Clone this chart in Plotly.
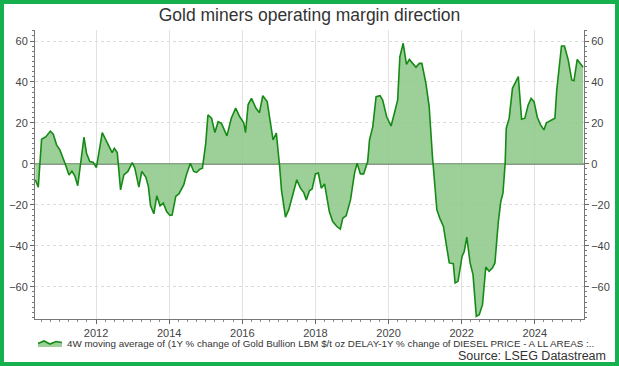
import datetime as dt
import plotly.graph_objects as go

# Decimal-year dates and values
dates_dec = [
    2010.34, 2010.42, 2010.51, 2010.63, 2010.75, 2010.83, 2010.92, 2011.01, 2011.15, 2011.26,
    2011.34, 2011.42, 2011.50, 2011.67, 2011.74, 2011.83, 2011.92, 2012.01, 2012.17, 2012.30,
    2012.44, 2012.50, 2012.58, 2012.67, 2012.76, 2012.87, 2012.99, 2013.06, 2013.17, 2013.25,
    2013.36, 2013.43, 2013.49, 2013.58, 2013.66, 2013.75, 2013.84, 2013.93, 2014.02, 2014.08,
    2014.18, 2014.27, 2014.40, 2014.47, 2014.58, 2014.67, 2014.75, 2014.84, 2014.91, 2015.00,
    2015.06, 2015.16, 2015.25, 2015.34, 2015.43, 2015.58, 2015.70, 2015.82, 2015.93, 2016.04,
    2016.09, 2016.16, 2016.25, 2016.38, 2016.47, 2016.56, 2016.68, 2016.84, 2016.93, 2017.02,
    2017.07, 2017.18, 2017.27, 2017.38, 2017.49, 2017.59, 2017.68, 2017.75, 2017.84, 2017.91,
    2018.00, 2018.08, 2018.16, 2018.25, 2018.38, 2018.47, 2018.58, 2018.68, 2018.75, 2018.84,
    2018.96, 2019.07, 2019.14, 2019.23, 2019.32, 2019.43, 2019.48, 2019.57, 2019.66, 2019.77,
    2019.84, 2019.95, 2020.07, 2020.16, 2020.25, 2020.31, 2020.40, 2020.49, 2020.57, 2020.66,
    2020.75, 2020.84, 2020.91, 2021.02, 2021.11, 2021.20, 2021.32, 2021.40, 2021.50, 2021.66,
    2021.77, 2021.82, 2021.90, 2022.01, 2022.07, 2022.14, 2022.23, 2022.31, 2022.40, 2022.48,
    2022.57, 2022.66, 2022.75, 2022.84, 2022.91, 2023.00, 2023.07, 2023.13, 2023.19, 2023.22,
    2023.30, 2023.39, 2023.55, 2023.64, 2023.73, 2023.82, 2023.90, 2023.98, 2024.07, 2024.16,
    2024.25, 2024.32, 2024.41, 2024.55, 2024.60, 2024.73, 2024.81, 2024.91, 2025.01, 2025.07,
    2025.16, 2025.23, 2025.32,
]
values = [
    -7.8, -11.4, 12.0, 13.3, 16.0, 14.5, 9.3, 6.8, 0.3, -5.5,
    -3.6, -5.9, -10.7, 13.0, 5.2, 1.1, 0.8, -1.8, 15.3, 10.4,
    5.5, 7.6, 5.5, -12.7, -5.4, -3.7, 0.6, -2.1, -11.4, -3.7,
    -6.5, -11.0, -20.5, -24.4, -15.6, -20.5, -19.2, -23.3, -25.2, -25.0,
    -15.9, -14.6, -10.2, -5.4, 0.3, -3.7, -4.2, -2.6, -2.1, 10.0,
    23.9, 22.3, 15.3, 20.6, 19.8, 13.7, 22.3, 27.2, 23.0, 20.1,
    15.3, 29.0, 32.0, 27.0, 25.0, 33.3, 30.4, 11.7, 15.0, -1.3,
    -12.7, -26.0, -22.4, -15.1, -7.8, -11.9, -14.0, -17.6, -13.0, -12.3,
    -4.9, -4.5, -11.9, -9.8, -23.3, -28.1, -30.5, -31.9, -26.5, -25.4,
    -17.6, -4.5, 0.3, -4.9, -4.9, 1.1, 11.7, 18.2, 32.8, 33.3,
    31.2, 23.0, 18.5, 24.7, 31.2, 52.3, 58.9, 48.6, 51.0, 49.1,
    47.2, 49.1, 49.1, 39.4, 28.0, 3.6, -22.4, -26.5, -30.6, -48.4,
    -48.8, -58.2, -57.4, -45.2, -42.8, -35.8, -48.4, -54.1, -74.5, -73.7,
    -68.8, -50.4, -52.5, -50.9, -48.4, -28.9, -18.4, -14.3, 0.3, 17.4,
    22.3, 36.9, 42.6, 21.8, 22.3, 28.8, 32.0, 30.4, 22.8, 19.0,
    16.6, 20.1, 21.1, 22.3, 36.1, 57.6, 57.6, 51.0, 41.0, 40.6,
    51.0, 49.1, 47.2,
]
y_ticks = [-60, -40, -20, 0, 20, 40, 60]
series_name = ("4W moving average of (1Y % change of Gold Bullion LBM $/t oz DELAY-1Y "
               "% change of DIESEL PRICE - A LL AREAS :..")
title_text = "Gold miners operating margin direction"
source_text = "Source: LSEG Datastream"


def dec_to_date(t):
    y = int(t)
    start = dt.datetime(y, 1, 1)
    end = dt.datetime(y + 1, 1, 1)
    return start + (end - start) * (t - y)


dates = [dec_to_date(t) for t in dates_dec]
x_range = [dec_to_date(2010.33), dec_to_date(2025.345)]
y_range = [-75.8, 65.4]

W, H = 619, 366
ML, MR, MT, MB = 35, 35, 30, 47
PW, PH = W - ML - MR, H - MT - MB


def px(xp):
    return (xp - ML) / PW


def py(yp):
    return (H - MB - yp) / PH


LINE = "#168a16"
FILL = "rgba(140,200,135,0.85)"
FONT = "Liberation Sans, Arial, sans-serif"

fig = go.Figure()
fig.add_trace(go.Scatter(
    x=dates, y=values, mode="lines", fill="tozeroy",
    line=dict(color=LINE, width=1.6), fillcolor=FILL,
    name=series_name, showlegend=False,
))
fig.add_trace(go.Scatter(
    x=dates, y=values, mode="lines", yaxis="y2",
    line=dict(width=0), hoverinfo="skip", showlegend=False, opacity=0,
))

axis_common = dict(
    range=y_range, tickvals=y_ticks, ticks="outside", ticklen=4,
    tickcolor="#666", showline=True, linecolor="#777", linewidth=1,
    tickfont=dict(family=FONT, size=11, color="#444"), automargin=False,
    minor=dict(dtick=2.5, ticks="outside", ticklen=2, tickcolor="#777", showgrid=False),
)

# legend-style icon (small area glyph) built from pixel positions of the reference
icon_pts = [(38, 343.5), (44, 341), (50, 344), (56, 341.5), (62, 342.5)]
icon_path = "M {},{} ".format(px(38), py(347))
icon_path += " ".join("L {},{}".format(px(a), py(b)) for a, b in icon_pts)
icon_path += " L {},{} Z".format(px(62), py(347))
line_path = "M " + " L ".join("{},{}".format(px(a), py(b)) for a, b in icon_pts)

fig.update_layout(
    width=W, height=H,
    margin=dict(l=ML, r=MR, t=MT, b=MB),
    paper_bgcolor="white", plot_bgcolor="white",
    showlegend=False,
    title=dict(text=title_text, x=0.5, xanchor="center", y=1 - 15 / H, yanchor="middle",
               font=dict(family=FONT, size=17.5, color="#333")),
    xaxis=dict(
        type="date", range=x_range, dtick="M24", tick0="2012-01-01", tickformat="%Y",
        showgrid=True, gridcolor="#e2e2e2", gridwidth=1,
        ticks="outside", ticklen=4, tickcolor="#666",
        showline=True, linecolor="#777", linewidth=1, automargin=False,
        tickfont=dict(family=FONT, size=11, color="#444"),
        minor=dict(dtick="M3", ticks="outside", ticklen=2, tickcolor="#888", showgrid=False),
        zeroline=False,
    ),
    yaxis=dict(
        side="left", showgrid=True, gridcolor="#dcdcdc", griddash="dot",
        zeroline=True, zerolinecolor="#8a9a8a", zerolinewidth=2,
        **axis_common,
    ),
    yaxis2=dict(
        side="right", overlaying="y", showgrid=False, zeroline=False,
        **axis_common,
    ),
    annotations=[
        dict(text=series_name, xref="paper", yref="paper", x=px(65), y=py(343),
             xanchor="left", yanchor="middle", showarrow=False,
             font=dict(family=FONT, size=9.8, color="#333")),
        dict(text=source_text, xref="paper", yref="paper", x=px(608), y=py(355.5),
             xanchor="right", yanchor="middle", showarrow=False,
             font=dict(family=FONT, size=12.5, color="#333")),
    ],
    shapes=[
        dict(type="path", xref="paper", yref="paper", path=icon_path,
             fillcolor=FILL, line=dict(width=0), layer="above"),
        dict(type="path", xref="paper", yref="paper", path=line_path,
             line=dict(color=LINE, width=1.6), layer="above"),
        dict(type="rect", xref="paper", yref="paper",
             x0=px(2), x1=px(617), y0=py(364), y1=py(2),
             line=dict(color="#17b04f", width=4), fillcolor="rgba(0,0,0,0)", layer="above"),
    ],
)

fig.write_html("out.html", config={"displayModeBar": False},
               post_script="document.body.style.margin='0';")
